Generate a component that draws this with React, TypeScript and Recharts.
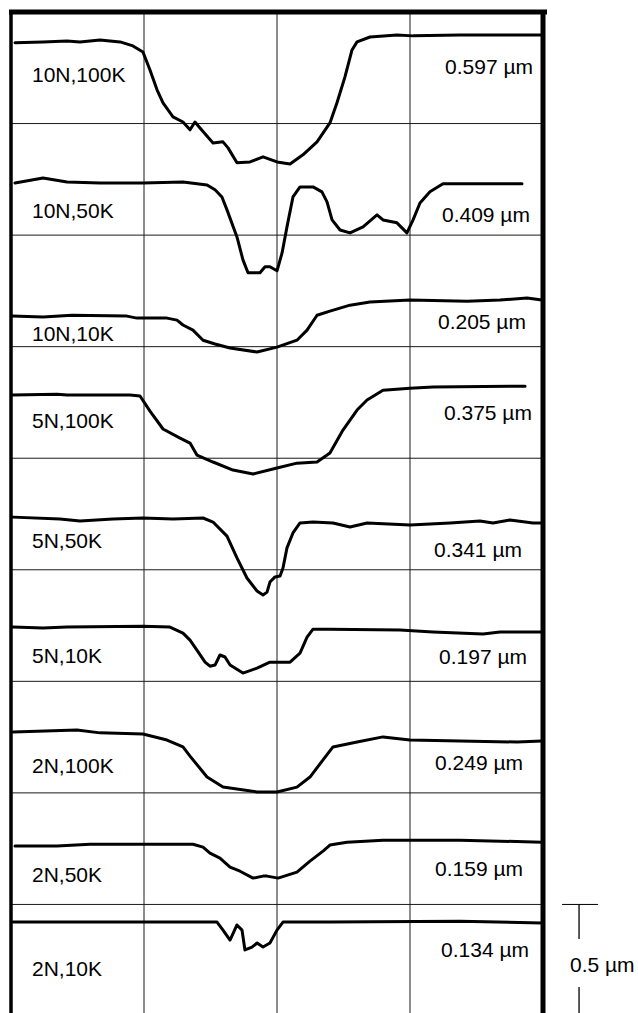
import { LineChart, Line, XAxis, YAxis, CartesianGrid, ReferenceLine, ReferenceDot } from "recharts";

const FONT = '"Liberation Sans", Arial, Helvetica, sans-serif';

// sample names (load, cycles) and measured wear depth
const sampleNames = ["10N,100K", "10N,50K", "10N,10K", "5N,100K", "5N,50K", "5N,10K", "2N,100K", "2N,50K", "2N,10K"];
const wearDepths = [0.597, 0.409, 0.205, 0.375, 0.341, 0.197, 0.249, 0.159, 0.134];

// surface level of each trace on the stacked plot (µm)
const surfaceLevels = [4.366, 3.734, 3.137, 2.783, 2.232, 1.743, 1.273, 0.766, 0.421];

// profiles: [scan position (grid div), height relative to surface (µm)]
const trace10N100K: [number, number][] = [
	[0.03, -0.004], [0.241, 0], [0.421, 0.004], [0.519, 0], [0.669, 0.009], [0.82, 0], [0.917, -0.018],
	[0.992, -0.045], [1.045, -0.126], [1.098, -0.215], [1.143, -0.273], [1.218, -0.336], [1.293, -0.359],
	[1.346, -0.394], [1.383, -0.359], [1.421, -0.386], [1.519, -0.453], [1.594, -0.448], [1.632, -0.475],
	[1.699, -0.542], [1.797, -0.538], [1.895, -0.515], [2.0, -0.538], [2.098, -0.547], [2.195, -0.506],
	[2.301, -0.448], [2.398, -0.363], [2.451, -0.273], [2.511, -0.157], [2.564, -0.036], [2.602, 0],
	[2.699, 0.022], [2.902, 0.031], [3.023, 0.027], [3.376, 0.031], [3.677, 0.031], [3.992, 0.031],
];
const trace10N50K: [number, number][] = [
	[0.03, 0], [0.241, 0.022], [0.421, 0.004], [0.669, 0], [0.992, 0], [1.293, 0.004], [1.474, -0.009],
	[1.534, -0.031], [1.586, -0.063], [1.624, -0.121], [1.699, -0.242], [1.744, -0.345], [1.782, -0.403],
	[1.872, -0.403], [1.91, -0.376], [1.947, -0.376], [2.0, -0.394], [2.038, -0.314], [2.075, -0.197],
	[2.12, -0.063], [2.173, -0.018], [2.271, -0.018], [2.338, -0.04], [2.376, -0.085], [2.414, -0.166],
	[2.474, -0.211], [2.549, -0.224], [2.647, -0.197], [2.752, -0.143], [2.797, -0.166], [2.902, -0.179],
	[2.977, -0.224], [3.023, -0.166], [3.075, -0.09], [3.15, -0.04], [3.248, -0.004], [3.526, -0.004],
	[3.842, -0.004],
];
const trace10N10K: [number, number][] = [
	[0.008, 0], [0.241, -0.004], [0.459, 0.004], [0.872, 0], [0.947, -0.009], [1.173, -0.009], [1.248, -0.018],
	[1.293, -0.04], [1.368, -0.063], [1.444, -0.108], [1.534, -0.125], [1.647, -0.143], [1.85, -0.161],
	[2.0, -0.139], [2.15, -0.108], [2.226, -0.063], [2.301, 0.004], [2.398, 0.022], [2.549, 0.049],
	[2.699, 0.063], [3.0, 0.072], [3.429, 0.067], [3.677, 0.072], [3.88, 0.081], [3.992, 0.072],
];
const trace5N100K: [number, number][] = [
	[0.008, 0], [0.346, 0.004], [0.421, 0], [0.895, 0], [0.97, -0.004], [1.045, -0.072], [1.143, -0.152],
	[1.271, -0.193], [1.346, -0.215], [1.398, -0.269], [1.519, -0.3], [1.669, -0.336], [1.82, -0.354],
	[2.0, -0.327], [2.15, -0.305], [2.301, -0.3], [2.398, -0.26], [2.496, -0.157], [2.602, -0.067],
	[2.677, -0.022], [2.797, 0.022], [3.0, 0.031], [3.173, 0.036], [3.774, 0.04], [3.865, 0.04],
];
const trace5N50K: [number, number][] = [
	[0.015, 0.004], [0.368, -0.004], [0.519, -0.013], [0.767, -0.004], [0.992, 0], [1.218, -0.004], [1.444, 0],
	[1.519, -0.018], [1.624, -0.081], [1.699, -0.179], [1.774, -0.269], [1.85, -0.327], [1.895, -0.345],
	[1.925, -0.332], [1.947, -0.287], [1.985, -0.264], [2.023, -0.26], [2.045, -0.224], [2.075, -0.134],
	[2.12, -0.067], [2.173, -0.022], [2.271, -0.018], [2.421, -0.022], [2.549, -0.04], [2.677, -0.022],
	[3.0, -0.031], [3.301, -0.022], [3.526, -0.013], [3.624, -0.022], [3.752, -0.009], [3.925, -0.022],
	[3.992, -0.022],
];
const trace5N10K: [number, number][] = [
	[0.015, 0], [0.241, -0.004], [0.421, 0], [0.992, 0.004], [1.195, 0], [1.293, -0.027], [1.346, -0.058],
	[1.398, -0.103], [1.459, -0.157], [1.496, -0.175], [1.534, -0.17], [1.571, -0.125], [1.609, -0.134],
	[1.647, -0.17], [1.744, -0.206], [1.85, -0.184], [1.947, -0.157], [2.0, -0.157], [2.098, -0.157],
	[2.173, -0.117], [2.226, -0.045], [2.271, -0.009], [2.398, -0.009], [2.925, -0.013], [3.173, -0.022],
	[3.549, -0.031], [3.677, -0.022], [3.992, -0.022],
];
const trace2N100K: [number, number][] = [
	[0.015, 0], [0.496, 0.009], [0.669, -0.004], [0.992, -0.009], [1.173, -0.036], [1.293, -0.067],
	[1.346, -0.108], [1.474, -0.202], [1.594, -0.247], [1.85, -0.269], [2.0, -0.269], [2.15, -0.247],
	[2.248, -0.202], [2.346, -0.125], [2.421, -0.067], [2.602, -0.045], [2.797, -0.022], [3.0, -0.036],
	[3.376, -0.04], [3.805, -0.045], [3.992, -0.04],
];
const trace2N50K: [number, number][] = [
	[0.03, -0.004], [0.346, -0.004], [0.594, 0.004], [0.992, 0.004], [1.368, 0.004], [1.444, -0.009],
	[1.496, -0.036], [1.571, -0.058], [1.647, -0.099], [1.722, -0.117], [1.82, -0.148], [1.895, -0.139],
	[1.925, -0.139], [2.008, -0.148], [2.15, -0.121], [2.248, -0.072], [2.346, -0.027], [2.398, 0],
	[2.526, 0.013], [2.797, 0.022], [3.0, 0.022], [3.376, 0.022], [3.992, 0.013],
];
const trace2N10K: [number, number][] = [
	[0.015, 0], [0.917, 0], [1.549, 0], [1.594, -0.036], [1.647, -0.081], [1.699, -0.013], [1.737, -0.036],
	[1.759, -0.125], [1.812, -0.112], [1.85, -0.094], [1.895, -0.112], [1.947, -0.094], [2.0, -0.036],
	[2.045, 0], [2.398, 0], [3.376, 0.004], [3.992, -0.004],
];

const traces = [trace10N100K, trace10N50K, trace10N10K, trace5N100K, trace5N50K, trace5N10K, trace2N100K, trace2N50K, trace2N10K];

// annotation placement (chart units)
const nameLabelX = 0.158;
const nameLabelY = [4.218, 3.608, 3.057, 2.671, 2.129, 1.614, 1.121, 0.632, 0.211];
const depthLabelX = [3.925, 3.902, 3.872, 3.917, 3.842, 3.88, 3.85, 3.85, 3.895];
const depthLabelY = [4.254, 3.59, 3.111, 2.703, 2.089, 1.609, 1.138, 0.663, 0.3];

const yTicks = [0, 0.5, 1, 1.5, 2, 2.5, 3, 3.5, 4, 4.5];
const xTicks = [0, 1, 2, 3, 4];

const labelStyle = { fill: "#000", fontSize: 21, fontFamily: FONT };

export default function App() {
	const series = traces.map((t, i) => t.map(([x, d]) => ({ x, y: surfaceLevels[i] + d })));

	return (
		<div style={{ width: 638, height: 1013, paddingLeft: 8, paddingTop: 8, boxSizing: "border-box", overflow: "hidden" }}>
			<style>{"html{overflow:hidden} body{margin:0}"}</style>
			<LineChart width={630} height={1030} margin={{ top: 4, left: 3, right: 95, bottom: 22 }}>
				<XAxis type="number" dataKey="x" domain={[0, 4]} ticks={xTicks} hide allowDataOverflow />
				<YAxis type="number" dataKey="y" domain={[0, 4.5]} ticks={yTicks} hide allowDataOverflow />
				<CartesianGrid stroke="#1a1a1a" strokeWidth={1} />

				{series.map((data, i) => (
					<Line
						key={sampleNames[i]}
						data={data}
						dataKey="y"
						type="linear"
						stroke="#000"
						strokeWidth={3}
						strokeLinejoin="round"
						strokeLinecap="round"
						dot={false}
						activeDot={false}
						isAnimationActive={false}
					/>
				))}

				{/* frame */}
				<ReferenceLine segment={[{ x: -0.015, y: 4.5 }, { x: 4.03, y: 4.5 }]} ifOverflow="visible" stroke="#000" strokeWidth={5} />
				<ReferenceLine x={0} stroke="#000" strokeWidth={3.5} />
				<ReferenceLine x={4} stroke="#000" strokeWidth={5} />

				{sampleNames.map((name, i) => (
					<ReferenceDot
						key={"n" + name}
						x={nameLabelX}
						y={nameLabelY[i]}
						r={0}
						stroke="none"
						fill="none"
						label={{ value: name, position: "right", offset: 0, ...labelStyle }}
					/>
				))}
				{wearDepths.map((d, i) => (
					<ReferenceDot
						key={"d" + i}
						x={depthLabelX[i]}
						y={depthLabelY[i]}
						r={0}
						stroke="none"
						fill="none"
						label={{ value: `${d.toFixed(3)} \u00b5m`, position: "left", offset: 0, ...labelStyle }}
					/>
				))}

				{/* 0.5 µm scale bar */}
				<ReferenceLine segment={[{ x: 4.143, y: 0.5 }, { x: 4.414, y: 0.5 }]} ifOverflow="visible" stroke="#000" strokeWidth={1} />
				<ReferenceLine segment={[{ x: 4.271, y: 0.5 }, { x: 4.271, y: 0.345 }]} ifOverflow="visible" stroke="#000" strokeWidth={1.3} />
				<ReferenceLine segment={[{ x: 4.271, y: 0.13 }, { x: 4.271, y: 0 }]} ifOverflow="visible" stroke="#000" strokeWidth={1.3} />
				<ReferenceDot
					x={4.203}
					y={0.229}
					r={0}
					stroke="none"
					fill="none"
					ifOverflow="visible"
					label={{ value: "0.5 \u00b5m", position: "right", offset: 0, ...labelStyle }}
				/>
			</LineChart>
		</div>
	);
}
